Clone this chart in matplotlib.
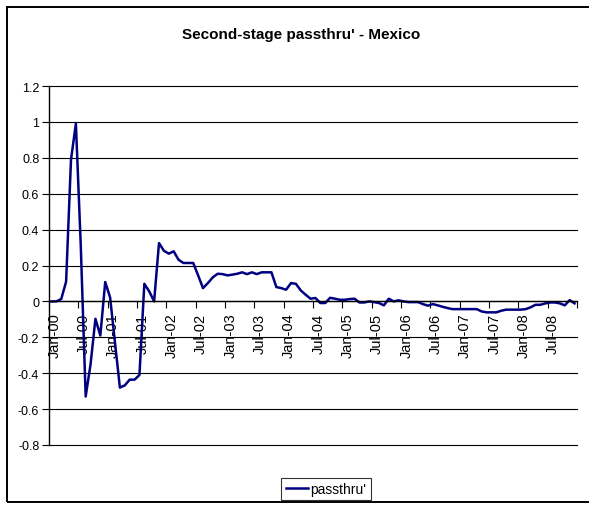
import matplotlib
matplotlib.use("Agg")
import matplotlib.pyplot as plt
import matplotlib.transforms as mtransforms
from matplotlib.patches import Rectangle
import numpy as np
import pandas as pd

plt.rcParams['font.family'] = ['Liberation Sans', 'DejaVu Sans']

# monthly series, Jan-2000 .. Dec-2008
months = pd.date_range('2000-01-01', periods=108, freq='MS').strftime('%b-%y').tolist()
passthru = [
    0.0, 0.0, 0.013, 0.11, 0.79, 0.99, 0.31, -0.53, -0.35, -0.097,
    -0.19, 0.108, 0.022, -0.23, -0.48, -0.468, -0.436, -0.436, -0.41, 0.098,
    0.056, 0.0, 0.325, 0.282, 0.266, 0.279, 0.232, 0.214, 0.214, 0.214,
    0.145, 0.074, 0.102, 0.134, 0.154, 0.152, 0.145, 0.149, 0.154, 0.162,
    0.152, 0.162, 0.152, 0.162, 0.162, 0.162, 0.08, 0.074, 0.065, 0.102,
    0.098, 0.061, 0.037, 0.015, 0.019, -0.009, -0.009, 0.02, 0.015, 0.009,
    0.009, 0.013, 0.015, -0.006, -0.006, 0.0, -0.004, -0.009, -0.022, 0.015,
    0.0, 0.006, 0.0, -0.004, -0.004, -0.004, -0.015, -0.024, -0.015, -0.022,
    -0.03, -0.037, -0.043, -0.043, -0.043, -0.043, -0.043, -0.043, -0.056, -0.061,
    -0.061, -0.061, -0.052, -0.046, -0.046, -0.046, -0.046, -0.043, -0.033, -0.019,
    -0.019, -0.011, -0.006, -0.006, -0.011, -0.022, 0.007, -0.011,
]
y_ticks = [-0.8, -0.6, -0.4, -0.2, 0, 0.2, 0.4, 0.6, 0.8, 1, 1.2]

fig = plt.figure(figsize=(5.89, 5.06), dpi=100)
ax = fig.add_axes([49/589, 1 - 446/506, 528/589, 359/506])

x = np.arange(len(passthru))
ax.plot(x, passthru, color='#000080', lw=1.8, label="passthru'")

ax.set_xlim(-0.5, len(passthru) - 0.5)
ax.set_ylim(y_ticks[0], y_ticks[-1])

# y axis
ax.set_yticks(y_ticks)
ax.set_yticklabels(['%g' % v for v in y_ticks], fontsize=9)
ax.tick_params(axis='y', direction='out', length=5, width=0.8, pad=2)
ax.grid(axis='y', color='black', lw=0.8)
ax.set_axisbelow(True)
for gl in ax.get_ygridlines():
    gl.set_clip_on(False)

# category axis crossing at zero, ticks between categories
ax.spines['bottom'].set_position(('data', 0))
ax.spines['top'].set_visible(False)
ax.spines['right'].set_visible(False)
ax.spines['left'].set_linewidth(1.0)
ax.spines['bottom'].set_linewidth(1.0)
ax.set_xticks(np.arange(-0.5, len(passthru), 6))
ax.set_xticklabels([])
ax.tick_params(axis='x', which='major', direction='out', length=5, width=0.8)
ax.set_xticks(x[::6], minor=True)
ax.set_xticklabels(months[::6], minor=True, rotation=90, fontsize=10.5,
                   ha='center', va='top')
ax.tick_params(axis='x', which='minor', length=0, pad=8)
shift = mtransforms.ScaledTranslation(3/100, 0, fig.dpi_scale_trans)
for lbl in ax.get_xticklabels(minor=True):
    lbl.set_transform(lbl.get_transform() + shift)

fig.text(301/589, 1 - 35/506, "Second-stage passthru' - Mexico",
         ha='center', va='center', fontsize=11, fontweight='bold')

leg = ax.legend(loc='lower center', bbox_to_anchor=(326/589, 5/506),
                bbox_transform=fig.transFigure, fontsize=10, frameon=True,
                fancybox=False, edgecolor='black', handlelength=1.6,
                handletextpad=0.2, borderpad=0.3, borderaxespad=0)
leg.get_frame().set_linewidth(0.8)

# chart area border
fig.add_artist(Rectangle((7/589, 1 - 503/506), 1.0, 495/506,
                         transform=fig.transFigure, fill=False,
                         edgecolor='black', lw=1.4))

fig.savefig('out.png', dpi=100)
